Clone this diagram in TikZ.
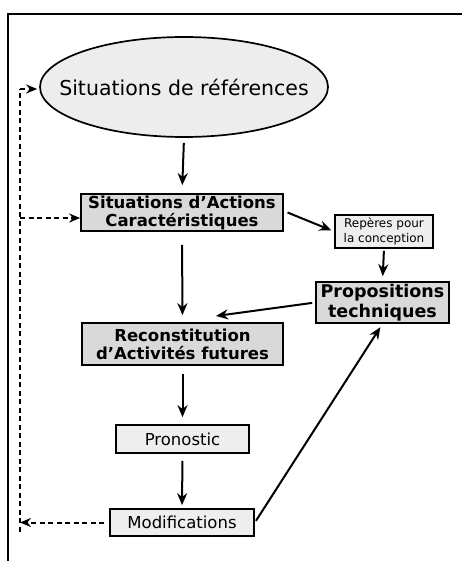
\documentclass[tikz,border=0pt]{standalone}
\usepackage{fontspec}
\setmainfont{DejaVu Sans}
\usetikzlibrary{shapes.geometric,arrows.meta}
\begin{document}
\begin{tikzpicture}[x=1pt,y=-1pt,
  line width=1.7pt,
  strongbox/.style={draw, fill=gray!30, inner sep=0pt, align=center,
    font=\bfseries\fontsize{16.5}{18}\selectfont},
  lightbox/.style={draw, fill=gray!13, inner sep=0pt, align=center},
  flow/.style={-{Stealth[length=12pt,width=10pt]}, line width=2pt},
  loop/.style={dash pattern=on 5pt off 3.5pt, line width=2pt},
  looparrow/.style={loop, -{Stealth[length=11pt,width=9pt]}}]
\useasboundingbox (0,0) rectangle (462,561);

% outer frame (top and left sides only)
\draw[line width=1.8pt] (8,561) -- (8,14) -- (462,14);

% nodes
\node[ellipse, draw, fill=gray!14, minimum width=288pt, minimum height=100pt,
  inner sep=0pt, font=\fontsize{20.5}{24}\selectfont] (ref) at (184,87)
  {\makebox[0pt]{Situations de références}};
\node[strongbox, minimum width=202pt, minimum height=37pt] (sac) at (182,212.5)
  {Situations d'Actions\\Caractéristiques};
\node[lightbox, minimum width=98pt, minimum height=33pt,
  font=\fontsize{12}{14.5}\selectfont] (rep) at (384,231.5)
  {Repères pour\\la conception};
\node[strongbox, minimum width=133pt, minimum height=41pt,
  font=\bfseries\fontsize{17.5}{19.5}\selectfont] (prop) at (382.5,302.5)
  {Propositions\\techniques};
\node[strongbox, minimum width=201pt, minimum height=42pt] (rec) at (182.5,344)
  {Reconstitution\\d'Activités futures};
\node[lightbox, minimum width=133pt, minimum height=28pt,
  font=\fontsize{16.5}{19}\selectfont] (pron) at (182.5,439) {Pronostic};
\node[lightbox, minimum width=144pt, minimum height=27pt,
  font=\fontsize{16.5}{19}\selectfont] (mod) at (182,522.5) {Modifications};

% loose ends of connectors
\coordinate (pj) at (216,316);
\coordinate (lb) at (20,522.5);
\coordinate (lm) at (20,218);
\coordinate (lt) at (20,89);

% main flow
\draw[flow, shorten <=5pt, shorten >=8pt] (ref.south) -- (sac.north);
\draw[flow, shorten <=13pt, shorten >=7pt] (sac.south) -- (rec.north);
\draw[flow, shorten <=8pt, shorten >=7pt] (rec.south) -- (pron.north);
\draw[flow, shorten <=7pt, shorten >=3pt] (pron.south) -- (mod.north);
\draw[flow, shorten <=4pt, shorten >=3pt] ([yshift=1.5pt]sac.east) -- (rep.west);
\draw[flow, shorten <=2pt, shorten >=5pt] (rep.south) -- (prop.north);
\draw[flow, shorten <=3pt] (prop.west) -- (pj);
\draw[flow, shorten <=2pt, shorten >=4pt] (mod.east) -- (prop.south);

% dashed feedback loop
\draw[looparrow, shorten <=5pt] (mod.west) -- (lb);
\draw[loop] ([yshift=-9pt]lb) -- (lt);
\draw[looparrow, shorten >=2pt] (lt) -- (ref.west |- lt);
\draw[looparrow] (lm) -- (sac.west |- lm);
\end{tikzpicture}
\end{document}
